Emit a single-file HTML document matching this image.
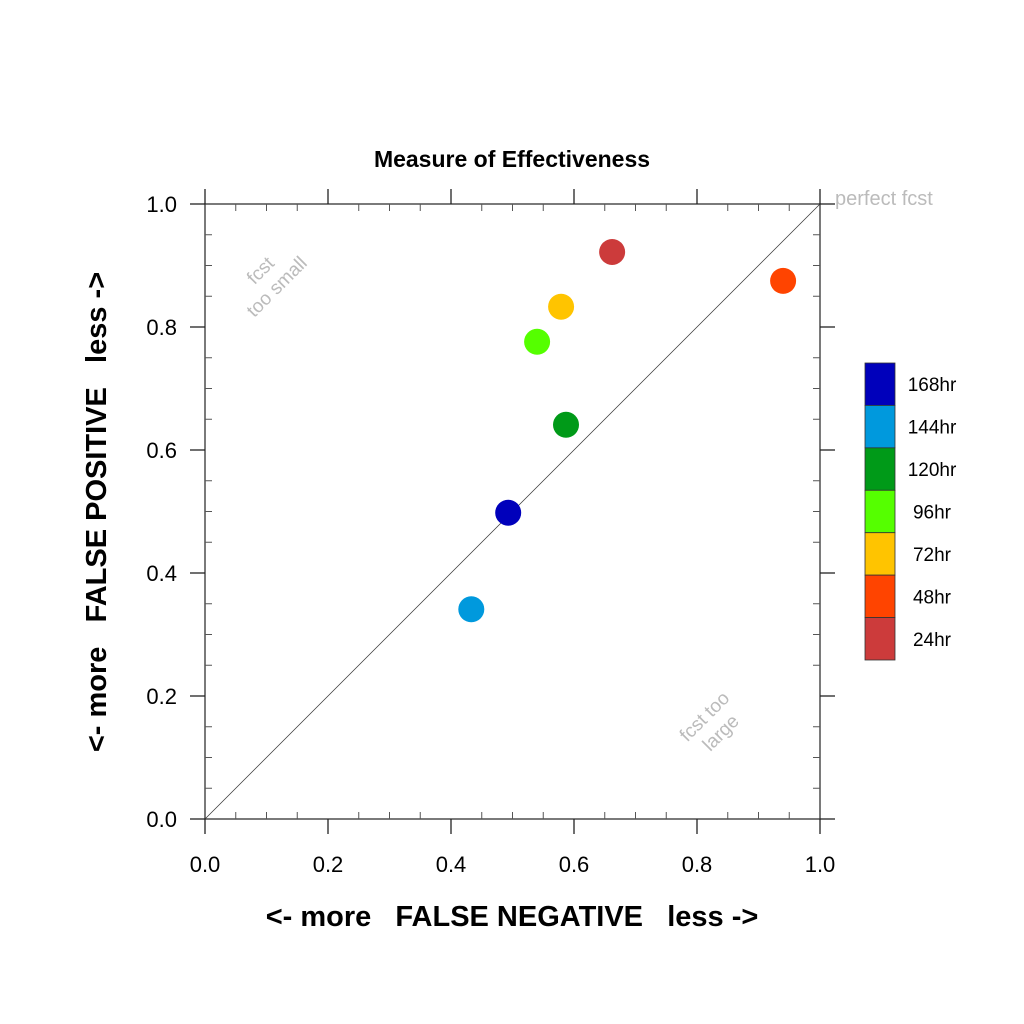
<!DOCTYPE html>
<html><head><meta charset="utf-8"><style>
body{margin:0;background:#fff}
svg{display:block;font-family:"Liberation Sans",sans-serif}
</style></head><body>
<svg id="chart" width="1024" height="1024" viewBox="0 0 1024 1024">
<rect width="1024" height="1024" fill="#fff"/>
<text x="512" y="167" font-size="23" font-weight="bold" text-anchor="middle">Measure of Effectiveness</text>
<g id="axes"></g>
<g id="marks"></g>
<g id="legend"></g>
<text x="512" y="926" font-size="29" font-weight="bold" text-anchor="middle" xml:space="preserve">&lt;- more   FALSE NEGATIVE   less -&gt;</text>
<text transform="translate(106,512) rotate(-90)" font-size="29" font-weight="bold" text-anchor="middle" xml:space="preserve">&lt;- more   FALSE POSITIVE   less -&gt;</text>
<text x="835" y="205" font-size="20" fill="#bbb">perfect fcst</text>
<text transform="translate(272,282) rotate(-45)" font-size="19" fill="#bbb" text-anchor="middle"><tspan x="0" y="-10">fcst</tspan><tspan x="0" y="13">too small</tspan></text>
<text transform="translate(716,728) rotate(-45)" font-size="19" fill="#bbb" text-anchor="middle"><tspan x="0" y="-10">fcst too</tspan><tspan x="0" y="13">large</tspan></text>
</svg>
<script>
const labels = ["168hr","144hr","120hr","96hr","72hr","48hr","24hr"];
const colors = ["#0000bb","#0099dd","#009a18","#55ff00","#ffc400","#ff4400","#cc3b3b"];
const xValues = [0.493,0.433,0.587,0.540,0.579,0.940,0.662];
const yValues = [0.498,0.341,0.641,0.776,0.833,0.875,0.922];
const tickValues = [0,0.2,0.4,0.6,0.8,1.0];
const tickLabels = ["0.0","0.2","0.4","0.6","0.8","1.0"];

const X0=205,X1=820,Y0=819,Y1=204;
const sx=v=>X0+(X1-X0)*v;
const sy=v=>Y0-(Y0-Y1)*v;
const NS="http://www.w3.org/2000/svg";
function mk(parent,tag,attrs){const e=document.createElementNS(NS,tag);for(const k in attrs)e.setAttribute(k,attrs[k]);parent.appendChild(e);return e;}
const axes=document.getElementById('axes');
// frame
const frame=mk(axes,'rect',{x:X0,y:Y1,width:X1-X0,height:Y0-Y1,fill:'none',stroke:'#333','stroke-width':1.3});


const diag=mk(axes,'line',{x1:sx(0),y1:sy(0),x2:sx(1),y2:sy(1),stroke:'#333','stroke-width':0.7});


// minor ticks
for(let i=0;i<=20;i++){
  const v=i/20; if(i%4===0) continue;
  const x=sx(v),y=sy(v);
  [[x,Y0,x,Y0-7],[x,Y1,x,Y1+7],[X0,y,X0+7,y],[X1,y,X1-7,y]].forEach(c=>{
    const t=mk(axes,'line',{x1:c[0],y1:c[1],x2:c[2],y2:c[3],stroke:'#555','stroke-width':1});
    
    
  });
}
tickValues.forEach((v,i)=>{
  const x=sx(v),y=sy(v);
  [[x,Y0,x,Y0+15],[x,Y1,x,Y1-15],[X0,y,X0-15,y],[X1,y,X1+15,y]].forEach(c=>{
    const t=mk(axes,'line',{x1:c[0],y1:c[1],x2:c[2],y2:c[3],stroke:'#222','stroke-width':1.3});
    
    
  });
  const tx=mk(axes,'text',{x:x,y:872,'font-size':22,'text-anchor':'middle'});
  tx.textContent=tickLabels[i];
  
  
  const ty=mk(axes,'text',{x:177,y:y+8,'font-size':22,'text-anchor':'end'});
  ty.textContent=tickLabels[i];
  
  
});
const marks=document.getElementById('marks');
labels.forEach((l,i)=>{
  const c=mk(marks,'circle',{cx:sx(xValues[i]),cy:sy(yValues[i]),r:13,fill:colors[i]});
  
  
});
const legend=document.getElementById('legend');
const bh=(660-363)/labels.length;
labels.forEach((l,i)=>{
  const r=mk(legend,'rect',{x:865,y:363+i*bh,width:30,height:bh,fill:colors[i],stroke:'#333','stroke-width':0.8});
  
  
  const t=mk(legend,'text',{x:932,y:363+i*bh+bh/2+7,'font-size':19,'text-anchor':'middle'});
  t.textContent=l;
  
  
});
</script>
</body></html>
